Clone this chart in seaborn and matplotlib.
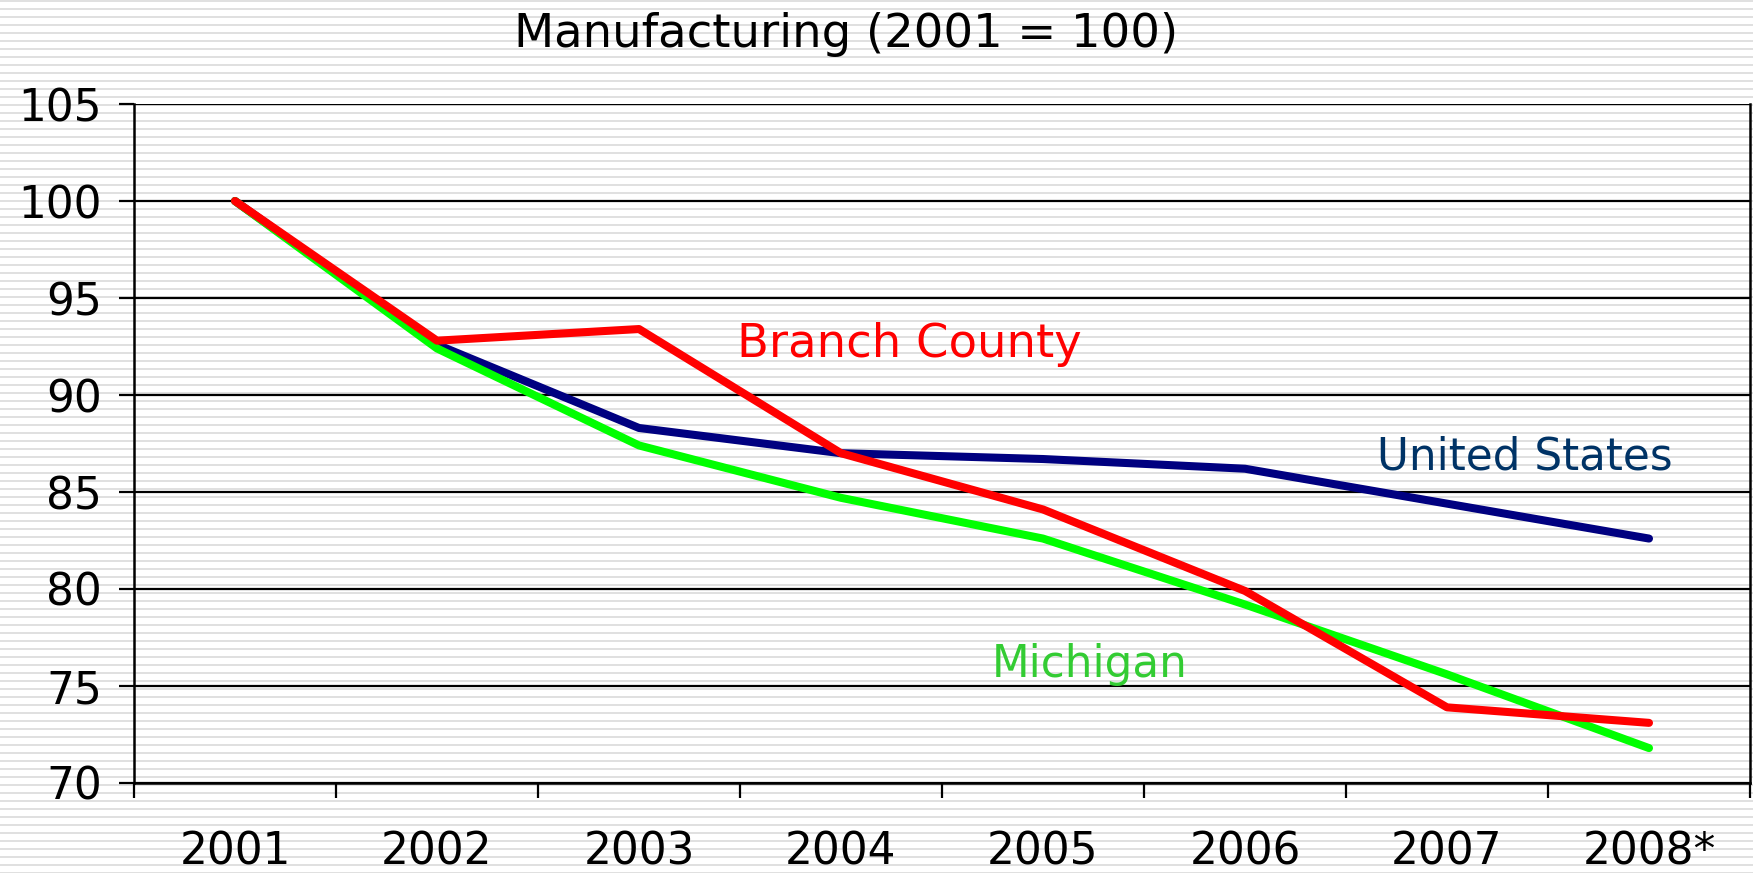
import numpy as np
import pandas as pd
import matplotlib
matplotlib.use("Agg")
import matplotlib.pyplot as plt
import seaborn as sns

# values (index, 2001 = 100)
years = ["2001", "2002", "2003", "2004", "2005", "2006", "2007", "2008*"]
united_states = [100.0, 92.6, 88.3, 87.0, 86.7, 86.2, 84.4, 82.6]
michigan = [100.0, 92.4, 87.4, 84.7, 82.6, 79.2, 75.6, 71.8]
branch_county = [100.0, 92.8, 93.4, 87.0, 84.1, 79.9, 73.9, 73.1]

series_names = ["United States", "Michigan", "Branch County"]
line_colors = {"United States": "#000080", "Michigan": "#00FF00", "Branch County": "#FF0000"}

W, H = 1753, 873

sns.set_theme(style="white")
plt.rcParams["font.family"] = ["DejaVu Sans"]

df = pd.DataFrame({
    "pos": list(range(len(years))) * 3,
    "value": united_states + michigan + branch_county,
    "series": np.repeat(series_names, len(years)),
})

fig = plt.figure(figsize=(W / 100, H / 100), dpi=100)
fig.patch.set_facecolor("white")

# striped background behind everything
bg = fig.add_axes([0, 0, 1, 1], zorder=-10)
stripe = np.ones((H, 1, 3))
rows = np.arange(H)
stripe[(rows % 8) < 2] = 0.88
bg.imshow(stripe, aspect="auto", interpolation="nearest", extent=[0, 1, 0, 1])
bg.set_axis_off()

ax = fig.add_axes([134 / W, 1 - 783 / H, (1750 - 134) / W, (783 - 104) / H])
ax.set_facecolor("none")

sns.lineplot(data=df, x="pos", y="value", hue="series", hue_order=series_names,
             palette=line_colors, linewidth=5.8, legend=False, ax=ax,
             solid_capstyle="round")
for ln in ax.lines:
    ln.set_zorder(3)

ax.set_xlim(-0.5, len(years) - 0.5)
ax.set_ylim(70, 105)
ax.set_yticks(np.arange(70, 106, 5))
ax.set_xticks(range(len(years)))
ax.set_xticklabels(years)
ax.set_xticks(np.arange(-0.5, len(years), 1.0), minor=True)
ax.set_xlabel("")
ax.set_ylabel("")

ax.yaxis.grid(True, color="black", linewidth=1.6)
ax.xaxis.grid(False)
ax.set_axisbelow(True)

for side in ["left", "bottom", "right"]:
    ax.spines[side].set_visible(True)
    ax.spines[side].set_color("black")
    ax.spines[side].set_linewidth(1.8)
ax.spines["top"].set_visible(False)

ax.tick_params(axis="x", which="major", length=0, labelsize=31.5, pad=34, colors="black")
ax.tick_params(axis="x", which="minor", length=11, width=1.6, direction="out", color="black", bottom=True)
ax.tick_params(axis="y", which="major", length=11, width=1.6, direction="out", labelsize=31.5,
               pad=12, colors="black", left=True)

fig.text(514 / W, 1 - 47 / H, "Manufacturing (2001 = 100)", fontsize=33.5,
         ha="left", va="baseline", color="black")
fig.text(737 / W, 1 - 357 / H, "Branch County", fontsize=33.5,
         ha="left", va="baseline", color="#FF0000")
fig.text(1377 / W, 1 - 469 / H, "United States", fontsize=31.5,
         ha="left", va="baseline", color="#003366")
fig.text(992 / W, 1 - 677 / H, "Michigan", fontsize=31.5,
         ha="left", va="baseline", color="#33CC33")

fig.savefig("out.png", dpi=100)
